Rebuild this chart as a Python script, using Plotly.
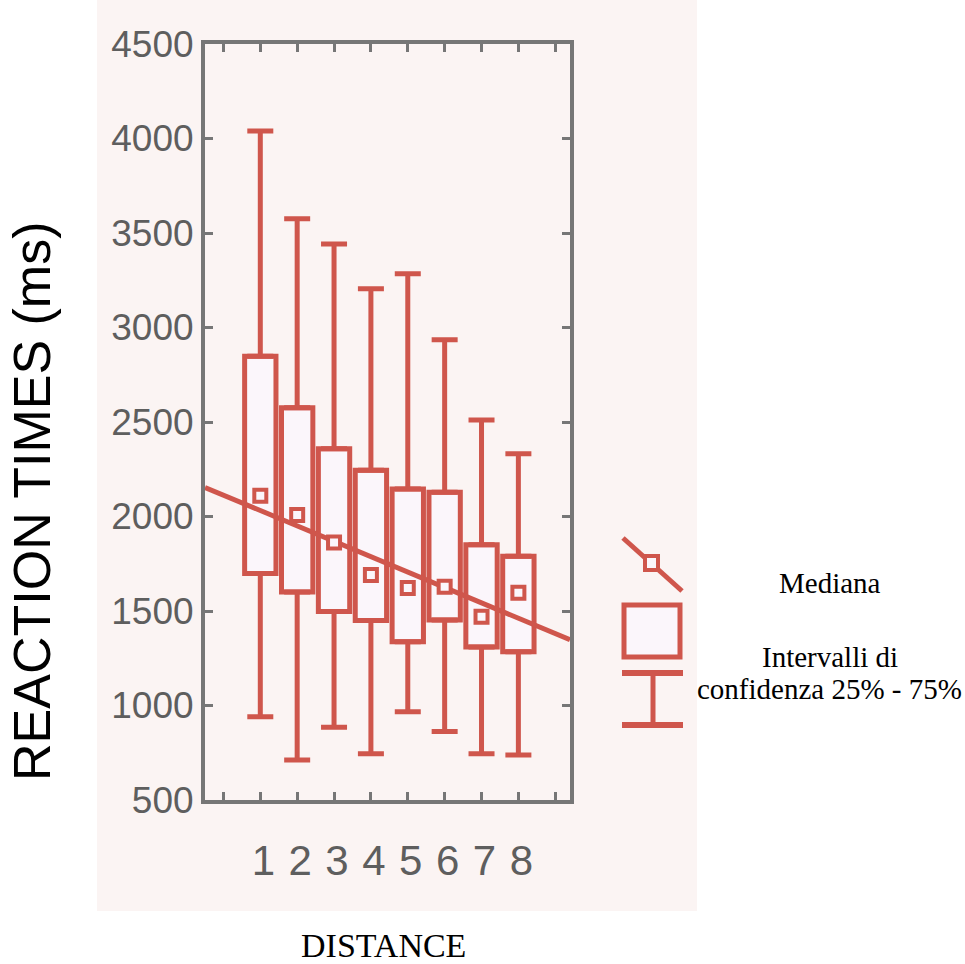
import plotly.graph_objects as go

# Reaction times (ms) by distance: whiskers, quartiles and medians
DISTANCES = [1, 2, 3, 4, 5, 6, 7, 8]
WHISKER_LOW = [940, 712, 885, 745, 967, 862, 745, 738]
Q1 = [1698, 1600, 1497, 1450, 1337, 1452, 1310, 1285]
MEDIAN = [2110, 2008, 1862, 1690, 1622, 1628, 1470, 1596]
Q3 = [2848, 2575, 2358, 2245, 2145, 2128, 1850, 1790]
WHISKER_HIGH = [4040, 3575, 3442, 3205, 3285, 2935, 2510, 2332]

# Linear trend of reaction time against distance
REG_INTERCEPT = 2113
REG_SLOPE = -81.4

Y_TICKS = [500, 1000, 1500, 2000, 2500, 3000, 3500, 4000, 4500]
X_TICKS = [0, 1, 2, 3, 4, 5, 6, 7, 8, 9]
X_TICK_TEXT = ["", "1", "2", "3", "4", "5", "6", "7", "8", ""]

RED = "#cf564c"
GRAY = "#767676"
PLOT_BG = "#fbf6fb"
SCAN_BG = "#fbf4f3"

X_RANGE = [-0.5, 9.4]
Y_RANGE = [500, 4500]

# figure geometry (pixels)
W, H = 965, 964
L, R, T, B = 205, 570, 44, 800


def px(x):
    return (x - L) / (R - L)


def py(y):
    return (B - y) / (B - T)


fig = go.Figure()

# interquartile boxes
fig.add_trace(go.Bar(
    x=DISTANCES,
    y=[q3 - q1 for q1, q3 in zip(Q1, Q3)],
    base=Q1,
    width=0.85,
    marker=dict(color=PLOT_BG, line=dict(color=RED, width=5)),
    hoverinfo="skip",
))

# upper whiskers
fig.add_trace(go.Scatter(
    x=DISTANCES, y=Q3, mode="markers",
    marker=dict(size=1, color="rgba(0,0,0,0)"),
    error_y=dict(type="data", symmetric=False,
                 array=[h - q3 for h, q3 in zip(WHISKER_HIGH, Q3)],
                 arrayminus=[0] * len(Q3),
                 color=RED, thickness=5, width=13),
    hoverinfo="skip",
))

# lower whiskers
fig.add_trace(go.Scatter(
    x=DISTANCES, y=Q1, mode="markers",
    marker=dict(size=1, color="rgba(0,0,0,0)"),
    error_y=dict(type="data", symmetric=False,
                 array=[0] * len(Q1),
                 arrayminus=[q1 - lo for q1, lo in zip(Q1, WHISKER_LOW)],
                 color=RED, thickness=5, width=13),
    hoverinfo="skip",
))

# regression line across the full x range
fig.add_trace(go.Scatter(
    x=X_RANGE,
    y=[REG_INTERCEPT + REG_SLOPE * x for x in X_RANGE],
    mode="lines",
    line=dict(color=RED, width=5),
    hoverinfo="skip",
))

# medians
fig.add_trace(go.Scatter(
    x=DISTANCES, y=MEDIAN, mode="markers",
    marker=dict(symbol="square", size=12, color=PLOT_BG,
                line=dict(color=RED, width=4)),
    hoverinfo="skip",
))

shapes = [
    # scanned paper area behind the chart
    dict(type="rect", xref="paper", yref="paper", layer="below",
         x0=px(97), x1=px(697), y0=py(911), y1=py(-2),
         fillcolor=SCAN_BG, line=dict(width=0)),
    # legend key: trend line with median square
    dict(type="line", xref="paper", yref="paper",
         x0=px(623), y0=py(538), x1=px(682), y1=py(591),
         line=dict(color=RED, width=5)),
    dict(type="rect", xref="paper", yref="paper",
         x0=px(645), x1=px(658), y0=py(570), y1=py(556),
         fillcolor=PLOT_BG, line=dict(color=RED, width=4)),
    # legend key: box
    dict(type="rect", xref="paper", yref="paper",
         x0=px(624), x1=px(680), y0=py(657), y1=py(605),
         fillcolor=PLOT_BG, line=dict(color=RED, width=5)),
    # legend key: whisker
    dict(type="line", xref="paper", yref="paper",
         x0=px(622), x1=px(683), y0=py(673), y1=py(673),
         line=dict(color=RED, width=6)),
    dict(type="line", xref="paper", yref="paper",
         x0=px(653), x1=px(653), y0=py(673), y1=py(725),
         line=dict(color=RED, width=5)),
    dict(type="line", xref="paper", yref="paper",
         x0=px(622), x1=px(683), y0=py(725), y1=py(725),
         line=dict(color=RED, width=6)),
]

serif = "Liberation Serif, Times New Roman, serif"
sans = "Liberation Sans, Arial, sans-serif"


def label(text, x, y, family, size, angle=0):
    return dict(text=text, xref="paper", yref="paper",
                x=px(x), y=py(y), xanchor="center", yanchor="middle",
                textangle=angle, showarrow=False,
                font=dict(family=family, size=size, color="#000000"))


annotations = [
    label("REACTION TIMES (ms)", 32, 502, sans, 52, angle=-90),
    label("DISTANCE", 383, 946, serif, 34),
    label("Mediana", 830, 583, serif, 29),
    label("Intervalli di", 830, 657, serif, 29),
    label("confidenza 25% - 75%", 829, 689, serif, 29),
]

fig.update_layout(
    width=W, height=H,
    margin=dict(l=L, r=W - R, t=T, b=H - B, pad=0),
    paper_bgcolor="#ffffff",
    plot_bgcolor=PLOT_BG,
    showlegend=False,
    barmode="overlay",
    shapes=shapes,
    annotations=annotations,
)

fig.update_xaxes(
    range=X_RANGE, tickmode="array", tickvals=X_TICKS, ticktext=X_TICK_TEXT,
    showline=True, linecolor=GRAY, linewidth=4, mirror="ticks",
    ticks="inside", ticklen=8, tickwidth=3, tickcolor=GRAY,
    showgrid=False, zeroline=False,
    tickfont=dict(family=sans, size=42, color="#5e5e5e"),
    ticklabelstandoff=21, ticklabelshift=3,
)

fig.update_yaxes(
    range=Y_RANGE, tickmode="array", tickvals=Y_TICKS,
    showline=True, linecolor=GRAY, linewidth=4, mirror="ticks",
    ticks="inside", ticklen=8, tickwidth=3, tickcolor=GRAY,
    showgrid=False, zeroline=False,
    tickfont=dict(family=sans, size=37, color="#5e5e5e"),
    ticklabelstandoff=0,
)

fig.write_html("out.html")
